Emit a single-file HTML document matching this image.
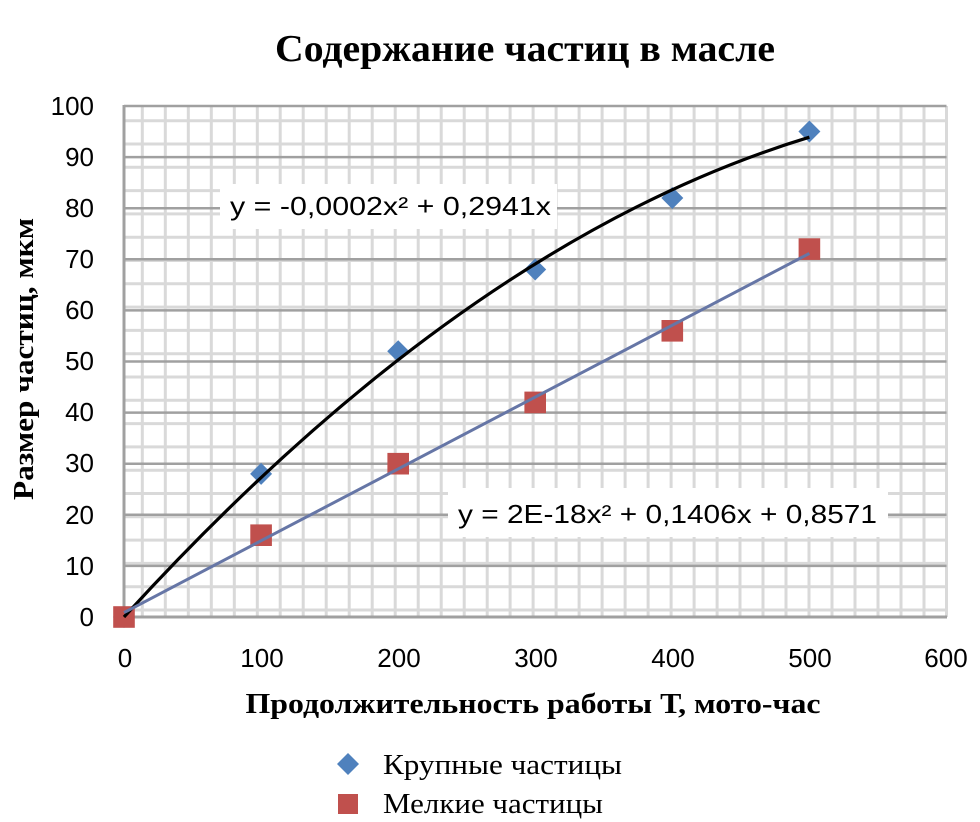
<!DOCTYPE html>
<html>
<head>
<meta charset="utf-8">
<style>
  html,body{margin:0;padding:0;background:#fff;}
  svg{display:block;}
</style>
</head>
<body>
<svg width="980" height="822" viewBox="0 0 980 822" xmlns="http://www.w3.org/2000/svg">
  <rect x="0" y="0" width="980" height="822" fill="#fff"/>

  <!-- Title -->
  <text x="525" y="61" font-family="Liberation Serif, serif" font-weight="bold" font-size="38" text-anchor="middle" textLength="500" lengthAdjust="spacingAndGlyphs" fill="#000">Содержание частиц в масле</text>

  <!-- Minor grid (light) vertical -->
  <g stroke="#d9d9d9" stroke-width="3">
    <line x1="142.3" y1="106" x2="142.3" y2="617"/>
    <line x1="165.3" y1="106" x2="165.3" y2="617"/>
    <line x1="188.3" y1="106" x2="188.3" y2="617"/>
    <line x1="211.3" y1="106" x2="211.3" y2="617"/>
    <line x1="234.3" y1="106" x2="234.3" y2="617"/>
    <line x1="257.3" y1="106" x2="257.3" y2="617"/>
    <line x1="280.2" y1="106" x2="280.2" y2="617"/>
    <line x1="303.2" y1="106" x2="303.2" y2="617"/>
    <line x1="326.2" y1="106" x2="326.2" y2="617"/>
    <line x1="349.2" y1="106" x2="349.2" y2="617"/>
    <line x1="372.2" y1="106" x2="372.2" y2="617"/>
    <line x1="395.2" y1="106" x2="395.2" y2="617"/>
    <line x1="418.2" y1="106" x2="418.2" y2="617"/>
    <line x1="441.2" y1="106" x2="441.2" y2="617"/>
    <line x1="464.2" y1="106" x2="464.2" y2="617"/>
    <line x1="487.2" y1="106" x2="487.2" y2="617"/>
    <line x1="510.1" y1="106" x2="510.1" y2="617"/>
    <line x1="533.1" y1="106" x2="533.1" y2="617"/>
    <line x1="556.1" y1="106" x2="556.1" y2="617"/>
    <line x1="579.1" y1="106" x2="579.1" y2="617"/>
    <line x1="602.1" y1="106" x2="602.1" y2="617"/>
    <line x1="625.1" y1="106" x2="625.1" y2="617"/>
    <line x1="648.1" y1="106" x2="648.1" y2="617"/>
    <line x1="671.1" y1="106" x2="671.1" y2="617"/>
    <line x1="694.1" y1="106" x2="694.1" y2="617"/>
    <line x1="717.1" y1="106" x2="717.1" y2="617"/>
    <line x1="740.0" y1="106" x2="740.0" y2="617"/>
    <line x1="763.0" y1="106" x2="763.0" y2="617"/>
    <line x1="786.0" y1="106" x2="786.0" y2="617"/>
    <line x1="809.0" y1="106" x2="809.0" y2="617"/>
    <line x1="832.0" y1="106" x2="832.0" y2="617"/>
    <line x1="855.0" y1="106" x2="855.0" y2="617"/>
    <line x1="878.0" y1="106" x2="878.0" y2="617"/>
    <line x1="901.0" y1="106" x2="901.0" y2="617"/>
    <line x1="924.0" y1="106" x2="924.0" y2="617"/>
    <line x1="946.5" y1="106" x2="946.5" y2="617"/>
  </g>
  <!-- Minor grid (light) horizontal -->
  <g stroke="#d9d9d9" stroke-width="3">
    <line x1="124" y1="120.7" x2="946.5" y2="120.7"/>
    <line x1="124" y1="144.0" x2="946.5" y2="144.0"/>
    <line x1="124" y1="167.3" x2="946.5" y2="167.3"/>
    <line x1="124" y1="190.6" x2="946.5" y2="190.6"/>
    <line x1="124" y1="213.9" x2="946.5" y2="213.9"/>
    <line x1="124" y1="237.2" x2="946.5" y2="237.2"/>
    <line x1="124" y1="260.5" x2="946.5" y2="260.5"/>
    <line x1="124" y1="283.8" x2="946.5" y2="283.8"/>
    <line x1="124" y1="307.1" x2="946.5" y2="307.1"/>
    <line x1="124" y1="330.4" x2="946.5" y2="330.4"/>
    <line x1="124" y1="353.7" x2="946.5" y2="353.7"/>
    <line x1="124" y1="377.0" x2="946.5" y2="377.0"/>
    <line x1="124" y1="400.3" x2="946.5" y2="400.3"/>
    <line x1="124" y1="423.6" x2="946.5" y2="423.6"/>
    <line x1="124" y1="446.9" x2="946.5" y2="446.9"/>
    <line x1="124" y1="470.2" x2="946.5" y2="470.2"/>
    <line x1="124" y1="493.5" x2="946.5" y2="493.5"/>
    <line x1="124" y1="516.8" x2="946.5" y2="516.8"/>
    <line x1="124" y1="540.1" x2="946.5" y2="540.1"/>
    <line x1="124" y1="563.4" x2="946.5" y2="563.4"/>
    <line x1="124" y1="586.7" x2="946.5" y2="586.7"/>
    <line x1="124" y1="610.0" x2="946.5" y2="610.0"/>
  </g>
  <!-- Major horizontal grid -->
  <g stroke="#a0a0a0" stroke-width="2.5">
    <line x1="124" y1="106" x2="946.5" y2="106"/>
    <line x1="124" y1="157.1" x2="946.5" y2="157.1"/>
    <line x1="124" y1="208.2" x2="946.5" y2="208.2"/>
    <line x1="124" y1="259.3" x2="946.5" y2="259.3"/>
    <line x1="124" y1="310.4" x2="946.5" y2="310.4"/>
    <line x1="124" y1="361.5" x2="946.5" y2="361.5"/>
    <line x1="124" y1="412.6" x2="946.5" y2="412.6"/>
    <line x1="124" y1="463.7" x2="946.5" y2="463.7"/>
    <line x1="124" y1="514.8" x2="946.5" y2="514.8"/>
    <line x1="124" y1="565.9" x2="946.5" y2="565.9"/>
  </g>
  <!-- Axes -->
  <line x1="124" y1="105" x2="124" y2="618.5" stroke="#a0a0a0" stroke-width="3"/>
  <line x1="122.5" y1="617" x2="947" y2="617" stroke="#a0a0a0" stroke-width="3"/>

  <!-- Y tick labels -->
  <g font-family="Liberation Sans, sans-serif" font-size="26" fill="#000" text-anchor="end">
    <text x="94" y="115">100</text>
    <text x="94" y="166">90</text>
    <text x="94" y="217">80</text>
    <text x="94" y="268">70</text>
    <text x="94" y="319">60</text>
    <text x="94" y="370">50</text>
    <text x="94" y="421">40</text>
    <text x="94" y="472">30</text>
    <text x="94" y="524">20</text>
    <text x="94" y="575">10</text>
    <text x="94" y="626">0</text>
  </g>
  <!-- X tick labels -->
  <g font-family="Liberation Sans, sans-serif" font-size="26" fill="#000" text-anchor="middle">
    <text x="125" y="667">0</text>
    <text x="262" y="667">100</text>
    <text x="399" y="667">200</text>
    <text x="536" y="667">300</text>
    <text x="673" y="667">400</text>
    <text x="810" y="667">500</text>
    <text x="946" y="667">600</text>
  </g>

  <!-- Axis titles -->
  <text x="533" y="713" font-family="Liberation Serif, serif" font-weight="bold" font-size="28" text-anchor="middle" textLength="575" lengthAdjust="spacingAndGlyphs" fill="#000">Продолжительность работы Т, мото-час</text>
  <text transform="translate(33,359) rotate(-90)" x="0" y="0" font-family="Liberation Serif, serif" font-weight="bold" font-size="29" text-anchor="middle" textLength="282" lengthAdjust="spacingAndGlyphs" fill="#000">Размер частиц, мкм</text>

  <!-- Markers: series 1 (diamonds) -->
  <g fill="#4f81bd">
    <path d="M124,606 L135,617 L124,628 L113,617 Z"/>
    <path d="M261.1,462.9 L272.1,473.9 L261.1,484.9 L250.1,473.9 Z"/>
    <path d="M398.2,340.3 L409.2,351.3 L398.2,362.3 L387.2,351.3 Z"/>
    <path d="M535.2,258.5 L546.2,269.5 L535.2,280.5 L524.2,269.5 Z"/>
    <path d="M672.3,187 L683.3,198 L672.3,209 L661.3,198 Z"/>
    <path d="M809.4,120.5 L820.4,131.5 L809.4,142.5 L798.4,131.5 Z"/>
  </g>
  <!-- Markers: series 2 (squares) -->
  <g fill="#c0504d">
    <rect x="113.2" y="606.2" width="21.6" height="21.6"/>
    <rect x="250.3" y="524.4" width="21.6" height="21.6"/>
    <rect x="387.4" y="452.9" width="21.6" height="21.6"/>
    <rect x="524.4" y="391.6" width="21.6" height="21.6"/>
    <rect x="661.5" y="320" width="21.6" height="21.6"/>
    <rect x="798.6" y="238.3" width="21.6" height="21.6"/>
  </g>

  <!-- Trendlines -->
  <path d="M124,617 Q466.7,241.3 809.4,137.2" fill="none" stroke="#000" stroke-width="3.2"/>
  <line x1="124" y1="612.6" x2="809.4" y2="253.4" stroke="#6676a6" stroke-width="3"/>

  <!-- Equation labels -->
  <rect x="220" y="184" width="337" height="45" fill="#fff"/>
  <text x="230" y="215" font-family="Liberation Sans, sans-serif" font-size="26" fill="#000" textLength="321" lengthAdjust="spacingAndGlyphs">y = -0,0002x² + 0,2941x</text>
  <rect x="448" y="488" width="440" height="49" fill="#fff"/>
  <text x="458" y="523" font-family="Liberation Sans, sans-serif" font-size="26" fill="#000" textLength="419" lengthAdjust="spacingAndGlyphs">y = 2E-18x² + 0,1406x + 0,8571</text>

  <!-- Legend -->
  <path d="M348,753 L359,764 L348,775 L337,764 Z" fill="#4f81bd"/>
  <text x="383" y="774" font-family="Liberation Serif, serif" font-size="29" fill="#000" textLength="239" lengthAdjust="spacingAndGlyphs">Крупные частицы</text>
  <rect x="338" y="794" width="20" height="20" fill="#c0504d"/>
  <text x="383" y="813" font-family="Liberation Serif, serif" font-size="29" fill="#000" textLength="220" lengthAdjust="spacingAndGlyphs">Мелкие частицы</text>
</svg>
</body>
</html>
